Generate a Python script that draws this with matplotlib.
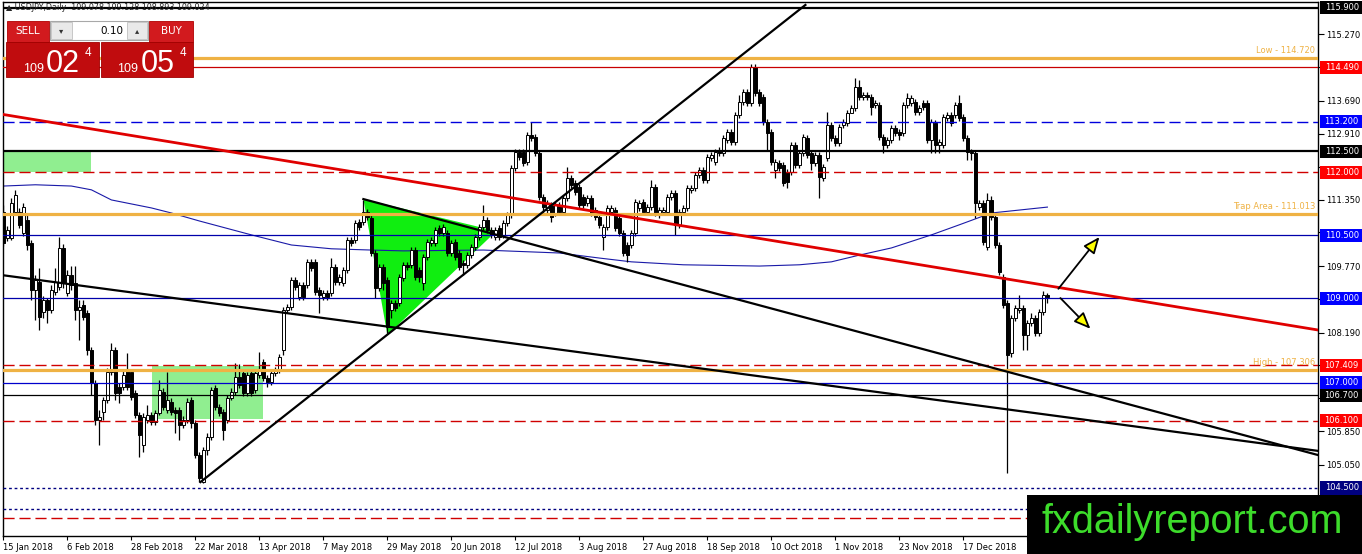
import numpy as np
import pandas as pd
import matplotlib
matplotlib.use("Agg")
import matplotlib.pyplot as plt
from matplotlib.patches import Rectangle, Polygon
from matplotlib.transforms import blended_transform_factory

# ---------------- data (USDJPY daily) ----------------
opens = [111.06,110.44,110.44,111.06,111.06,110.56,110.87,110.32,109.20,109.39,
 108.68,108.97,108.73,109.16,109.27,110.20,109.13,109.56,109.37,108.73,
 108.85,108.66,107.78,106.99,106.12,106.31,106.59,107.26,107.78,106.90,
 106.90,107.30,107.26,106.76,106.23,105.52,106.12,106.23,106.07,106.28,
 106.78,106.35,106.54,106.35,106.35,106.00,106.12,106.59,106.04,105.28,
 104.64,105.40,105.71,106.88,106.42,106.31,106.12,106.64,106.78,107.14,
 107.23,106.76,107.23,106.83,107.18,107.49,107.11,107.02,107.23,107.30,
 107.78,108.73,108.80,109.44,109.04,109.32,109.32,109.87,109.87,109.20,
 109.04,109.13,109.13,109.75,109.39,109.37,109.68,110.39,110.39,110.82,
 110.82,111.06,110.91,110.08,109.25,109.75,109.44,108.73,108.89,108.89,
 109.49,109.80,109.80,110.15,109.68,109.37,109.99,110.32,110.32,110.68,
 110.56,110.56,110.08,110.34,110.08,109.84,109.80,110.03,110.22,110.46,
 110.70,110.87,110.63,110.46,110.68,110.51,110.79,110.98,112.10,112.48,
 112.48,112.24,112.88,112.84,112.46,111.41,111.10,111.22,111.03,111.22,
 111.06,111.39,111.86,111.74,111.65,111.41,111.27,111.39,111.10,110.94,
 110.46,110.70,111.06,111.10,110.91,110.56,110.27,110.27,110.56,111.15,
 111.29,111.06,111.17,111.65,110.98,111.06,111.06,111.41,111.51,110.75,
 111.06,111.15,111.58,111.63,111.93,112.05,111.82,112.34,112.24,112.53,
 112.46,112.77,112.96,112.72,113.36,113.67,113.91,113.65,114.50,113.91,
 113.79,113.19,112.96,112.05,112.22,112.17,112.01,112.01,112.65,112.17,
 112.46,112.81,112.46,112.22,112.41,111.86,112.34,113.12,112.81,112.69,
 113.12,113.17,113.41,113.53,114.02,113.79,113.83,113.79,113.60,113.60,
 112.84,112.65,112.77,113.05,112.96,112.93,113.60,113.65,113.67,113.43,
 113.65,113.65,112.77,113.17,112.65,112.65,113.29,113.36,113.36,113.65,
 113.31,112.81,112.48,112.46,111.17,111.27,110.22,111.34,110.94,110.27,
 109.51,108.89,107.71,108.54,108.73,108.78,108.13,108.42,108.54,108.18,
 108.68,109.078]

highs = [111.22,110.72,111.39,111.58,111.15,111.27,110.98,110.39,109.56,109.73,
 109.06,109.01,109.32,109.73,110.46,110.30,109.68,109.77,109.77,108.97,
 108.97,108.73,107.85,107.07,106.35,106.66,107.35,107.94,107.85,106.99,
 107.30,107.71,107.33,106.83,106.31,106.28,106.47,106.31,106.35,107.07,
 106.88,107.26,106.64,106.42,106.42,106.21,106.64,106.66,106.12,105.36,
 105.47,105.81,106.90,106.95,106.50,106.38,106.71,106.88,107.47,107.45,
 107.30,107.26,107.30,107.30,107.73,107.56,107.18,107.30,107.37,107.68,
 108.80,108.87,109.51,109.51,109.39,109.39,109.94,109.94,109.94,109.27,
 109.20,109.20,109.96,109.82,109.58,109.75,110.46,110.46,110.87,110.89,
 111.34,111.13,110.98,110.15,109.82,109.82,109.51,108.97,108.97,109.58,
 109.87,109.87,110.22,110.22,109.75,110.06,110.41,110.46,110.70,110.75,
 110.77,110.63,110.39,110.41,110.15,109.92,110.11,110.30,110.53,110.77,
 111.22,110.94,110.70,110.70,110.75,110.87,111.06,112.17,112.55,112.55,
 112.55,112.96,113.19,112.91,112.53,111.48,111.34,111.29,111.29,111.29,
 111.46,112.12,111.93,111.82,111.72,111.48,111.46,111.46,111.17,111.01,
 110.77,111.22,111.22,111.17,110.98,110.63,110.34,110.63,111.36,111.34,
 111.36,111.25,111.82,111.72,111.17,111.17,111.48,111.58,111.58,111.13,
 111.22,111.70,111.70,112.01,112.12,112.12,112.43,112.48,112.55,112.60,
 112.88,113.03,113.03,113.43,113.83,113.98,113.98,114.57,114.57,113.98,
 113.86,113.26,113.03,112.31,112.29,112.24,112.08,112.72,112.72,112.53,
 112.91,112.88,112.53,112.48,112.48,112.20,113.43,113.19,112.88,113.15,
 113.26,113.48,113.60,114.24,114.19,113.91,113.91,113.86,113.72,113.67,
 112.91,112.84,113.12,113.12,113.03,113.67,113.88,113.83,113.74,113.60,
 113.72,113.72,113.26,113.24,112.79,113.38,113.43,113.43,113.67,113.83,
 113.38,112.88,112.55,112.53,111.34,111.34,111.51,111.44,111.01,110.34,
 109.58,108.97,108.61,108.85,109.08,108.85,108.49,108.66,108.61,108.75,
 109.18,109.128]

lows = [110.25,110.37,110.39,111.01,110.68,110.49,110.15,108.97,108.49,108.25,
 108.54,108.42,108.66,109.08,109.20,109.25,109.06,109.20,108.49,108.02,
 108.49,107.66,106.71,106.00,105.52,106.12,106.52,107.18,106.59,106.52,
 106.83,106.83,106.59,106.16,105.24,105.36,106.04,106.00,106.00,106.23,
 106.35,106.28,106.23,105.81,105.64,105.93,106.04,105.93,105.21,104.64,
 104.62,105.28,105.64,106.35,106.21,105.64,106.04,106.59,106.71,106.88,
 106.69,106.69,106.69,106.76,107.11,107.04,106.90,106.95,107.16,107.23,
 107.66,108.66,108.73,109.20,108.97,108.97,109.25,109.65,109.08,108.66,
 108.97,108.97,109.06,109.32,109.32,109.30,109.61,110.25,110.32,110.63,
 110.75,110.87,110.01,109.01,109.18,109.20,108.18,108.54,108.70,108.82,
 109.42,109.68,109.73,109.44,109.39,109.20,109.92,110.25,110.25,110.49,
 110.49,110.01,110.01,109.92,109.68,109.56,109.73,109.96,110.15,110.39,
 110.63,110.56,110.44,110.39,110.39,110.44,110.72,110.91,112.03,112.29,
 112.15,112.17,112.74,112.39,111.34,111.01,111.03,110.82,110.96,110.98,
 110.98,111.32,111.63,111.46,111.15,111.15,111.20,110.96,110.87,110.68,
 110.15,110.63,110.98,110.60,110.49,110.01,109.87,110.20,110.49,111.08,
 110.98,110.98,111.10,110.96,110.91,110.98,110.98,111.34,110.51,110.68,
 110.98,111.08,111.51,111.55,111.86,111.74,111.74,112.27,112.17,112.39,
 112.39,112.69,112.65,112.65,113.29,113.60,113.57,113.57,113.81,113.57,
 113.12,112.53,112.17,111.86,112.03,111.67,111.63,111.93,112.10,112.10,
 112.39,112.34,112.05,112.15,111.39,111.79,112.27,112.74,112.62,112.62,
 113.05,113.10,113.45,113.45,113.72,113.72,113.72,113.36,113.53,112.77,
 112.46,112.58,112.69,112.86,112.77,112.86,113.53,113.57,113.36,113.36,
 113.48,112.69,112.46,112.46,112.46,112.58,113.22,113.10,113.29,113.22,
 112.74,112.29,112.29,110.91,111.10,110.27,110.15,110.87,110.20,109.56,
 108.78,104.86,107.61,108.47,108.66,107.78,107.78,108.35,108.11,108.11,
 108.61,108.893]

closes = [110.32,110.63,111.27,111.46,110.75,111.17,110.27,109.20,109.44,108.56,
 108.97,108.73,109.20,109.39,110.20,109.37,109.56,109.32,108.73,108.80,
 108.56,107.78,106.99,106.12,106.19,106.59,107.26,107.78,106.76,106.76,
 107.18,106.90,106.66,106.23,105.76,106.19,106.23,106.07,106.28,106.83,
 106.42,106.59,106.31,106.28,106.00,106.12,106.54,106.04,105.28,104.74,
 105.40,105.71,106.83,106.42,106.28,105.88,106.64,106.78,107.14,106.95,
 106.76,107.18,106.76,107.23,107.30,107.11,107.02,107.23,107.30,107.61,
 108.73,108.80,109.44,109.27,109.32,109.04,109.87,109.73,109.16,109.08,
 109.13,109.04,109.75,109.39,109.51,109.68,110.39,110.32,110.79,110.70,
 111.06,110.94,110.08,109.25,109.75,109.37,108.32,108.89,108.78,109.51,
 109.80,109.75,110.15,109.51,109.51,109.99,110.34,110.39,110.63,110.56,
 110.70,110.08,110.32,109.99,109.75,109.80,110.03,110.22,110.46,110.70,
 110.87,110.63,110.51,110.63,110.46,110.79,110.98,112.10,112.48,112.36,
 112.22,112.88,112.81,112.46,111.41,111.17,111.27,110.94,111.22,111.06,
 111.39,111.86,111.70,111.53,111.22,111.22,111.39,111.03,110.94,110.75,
 110.70,111.15,111.15,110.68,110.56,110.08,110.03,110.56,111.29,111.27,
 111.06,111.17,111.65,111.03,111.10,111.10,111.41,111.51,110.75,111.06,
 111.15,111.63,111.63,111.93,112.05,111.82,112.36,112.41,112.48,112.46,
 112.81,112.96,112.72,113.36,113.67,113.91,113.65,114.50,113.88,113.65,
 113.19,112.93,112.24,112.24,112.10,111.74,111.77,112.65,112.17,112.46,
 112.84,112.41,112.22,112.41,111.89,112.12,113.12,112.81,112.69,113.07,
 113.19,113.41,113.53,114.02,113.79,113.83,113.79,113.55,113.65,112.84,
 112.65,112.77,113.05,112.93,112.88,113.60,113.76,113.76,113.43,113.53,
 113.55,112.77,113.19,112.65,112.72,113.31,113.36,113.17,113.60,113.29,
 112.81,112.48,112.46,111.27,111.27,110.34,111.34,110.94,110.27,109.63,
 108.85,107.66,108.54,108.78,108.78,108.13,108.42,108.54,108.18,108.68,
 109.08,109.024]

# moving average (sampled points: bar index, value)
ma_bars = [0, 8, 17, 22, 27, 37, 42, 49, 62, 72, 82, 92, 100, 120, 139, 149, 157,
           170, 189, 199, 207, 214, 222, 232, 239, 247, 254, 261]
ma_vals = [111.67, 111.70, 111.67, 111.58, 111.34, 111.15, 111.03, 110.84, 110.51,
           110.27, 110.18, 110.15, 110.13, 110.15, 110.08, 109.96, 109.87, 109.80,
           109.77, 109.80, 109.87, 110.03, 110.20, 110.51, 110.75, 111.03, 111.10, 111.17]

# horizontal levels
level_prices = [115.900, 114.720, 114.490, 113.200, 112.500, 112.000, 111.013, 110.500,
                109.000, 107.409, 107.306, 107.000, 106.700, 106.100, 104.500, 104.000, 103.780]
level_colors = ['black', '#EFB244', '#C80000', '#0000DD', 'black', '#D00000', '#EFB244',
                '#0000AA', '#0000AA', '#D00000', '#EFB244', '#0000CC', 'black', '#D00000',
                '#000080', '#000080', '#D00000']
level_styles = ['-', '-', '-', 'dash', '-', 'dash', '-', '-', '-', 'dash', '-', '-', '-',
                'dash', 'dot', 'dot', 'dash']
level_widths = [1.6, 2.3, 0.9, 1.0, 1.6, 1.0, 2.3, 0.9, 0.9, 1.0, 2.3, 0.9, 0.9, 1.0, 1.0, 1.0, 1.0]

# price labels on right axis (boxed)
box_prices = [115.900, 114.490, 113.200, 112.500, 112.000, 110.500, 109.000,
              107.409, 107.000, 106.700, 106.100, 104.500]
box_colors = ['black', '#FF0000', '#0000FF', 'black', '#FF0000', '#0000FF', '#0000FF',
              '#FF0000', '#0000FF', 'black', '#FF0000', '#000080']
axis_ticks = [115.270, 114.490, 113.690, 112.910, 112.130, 111.350, 110.570, 109.770,
              108.990, 108.190, 107.410, 106.630, 105.850, 105.050, 104.270]
hidden_tick_labels = [114.490, 112.130, 110.570, 108.990, 107.410, 106.630, 104.270]

# text labels on levels
level_texts = ['Low - 114.720', 'Trap Area - 111.013', 'High - 107.306']
level_text_prices = [114.720, 111.013, 107.306]

# trend lines (bar index, price anchors)
red_line = ([-0.75, 328.75], [113.38, 108.25])
black_line_1 = ([-0.75, 328.75], [109.56, 105.38])
black_line_2 = ([90, 328.75], [111.36, 105.28])
rising_line = ([49.25, 200.5], [104.64, 115.97])

triangle_bars = [90, 96, 123.25]
triangle_prices = [111.36, 108.13, 110.60]
zone_bars = [(-0.75, 22), (37.25, 65)]
zone_prices = [(112.005, 112.53), (106.14, 107.40)]

arrow_up = ((263.75, 109.23), (274, 110.46))
arrow_down = ((264.25, 109.01), (271.75, 108.28))

dates = pd.bdate_range('2018-01-15', periods=len(closes))
label_idx = list(range(0, len(closes), 16))
label_txt = [f"{dates[i].day} {dates[i].strftime('%b %Y')}" for i in label_idx]

# ---------------- figure ----------------
W, H = 1362, 554
fig = plt.figure(figsize=(W / 100, H / 100), dpi=100)
fig.patch.set_facecolor('white')


def fx(px):
    return px / W


def fy(py):
    return 1 - py / H


ax = fig.add_axes([fx(3), fy(536), fx(1318) - fx(3), fy(2) - fy(536)])
ax.set_xlim(-0.1, 328.65)
ax.set_ylim(103.36, 116.04)
for s in ax.spines.values():
    s.set_color('black')
    s.set_linewidth(1.0)

# zones and triangle (background)
for (b0, b1), (p0, p1) in zip(zone_bars, zone_prices):
    ax.add_patch(Rectangle((b0, p0), b1 - b0, p1 - p0, facecolor='#90EE90',
                           edgecolor='none', zorder=1))
ax.add_patch(Polygon(list(zip(triangle_bars, triangle_prices)), closed=True,
                     facecolor='#10EE10', edgecolor='none', zorder=1))

# moving average
ax.plot(ma_bars, ma_vals, color='#1a1aa8', lw=0.8, zorder=2)

# candles
n = min(len(opens), len(highs), len(lows), len(closes))
o = np.array(opens[:n]); h = np.array(highs[:n]); l = np.array(lows[:n]); c = np.array(closes[:n])
x = np.arange(n)
ax.vlines(x, l, h, color='black', lw=0.9, zorder=4)
up = c >= o
bottoms = np.minimum(o, c)
heights = np.maximum(np.abs(c - o), 0.012)
ax.bar(x[up], heights[up], bottom=bottoms[up], width=0.66, facecolor='white',
       edgecolor='black', linewidth=0.7, zorder=5)
ax.bar(x[~up], heights[~up], bottom=bottoms[~up], width=0.66, facecolor='black',
       edgecolor='black', linewidth=0.7, zorder=5)

# horizontal levels
for p, col, st, lw in zip(level_prices, level_colors, level_styles, level_widths):
    if st == 'dash':
        ax.axhline(p, color=col, lw=lw, dashes=(8, 3.5), zorder=6)
    elif st == 'dot':
        ax.axhline(p, color=col, lw=lw, dashes=(2, 2), zorder=6)
    else:
        ax.axhline(p, color=col, lw=lw, zorder=6)

bt = blended_transform_factory(ax.transAxes, ax.transData)
for t, p in zip(level_texts, level_text_prices):
    ax.text(0.9978, p + 0.07, t, transform=bt, ha='right', va='bottom',
            color='#EFB244', fontsize=6, zorder=7)

# trend lines
ax.plot(*red_line, color='#E00000', lw=2.0, zorder=7, solid_capstyle='butt')
ax.plot(*black_line_1, color='black', lw=1.6, zorder=7)
ax.plot(*black_line_2, color='black', lw=1.6, zorder=7)
ax.plot(*rising_line, color='black', lw=1.6, zorder=7)

# arrows
for start, end in (arrow_up, arrow_down):
    ax.annotate('', xy=end, xytext=start, zorder=8,
                arrowprops=dict(arrowstyle='-|>,head_length=1.0,head_width=0.42',
                                facecolor='#FFFF00', edgecolor='black', lw=1.3,
                                shrinkA=0, shrinkB=0))

# axes ticks
ax.set_xticks(label_idx)
ax.set_xticklabels(label_txt)
for lbl in ax.get_xticklabels():
    lbl.set_ha('left')
ax.tick_params(axis='x', length=3, pad=2, labelsize=6, colors='black')
ax.yaxis.tick_right()
ax.set_yticks(axis_ticks)
ax.set_yticklabels(['' if v in hidden_tick_labels else f"{v:.3f}" for v in axis_ticks])
ax.tick_params(axis='y', length=4, pad=2, labelsize=6, colors='black')

# boxed price labels on axis
for p, col in zip(box_prices, box_colors):
    ax.add_patch(Rectangle((1.0015, p - 0.155), 0.033, 0.31, transform=bt,
                           facecolor=col, edgecolor='none', clip_on=False, zorder=20))
    ax.text(1.0015 + 0.0165, p, f"{p:.3f}", transform=bt, ha='center', va='center',
            color='white', fontsize=6, zorder=21, clip_on=False)

# header text
fig.text(fx(6), fy(8), '\u25b2 USDJPY,Daily  109.078 109.128 108.893 109.024',
         fontsize=5.8, va='center', ha='left', color='#222222', zorder=30)


# one-click trading panel
def frect(x0, y0, x1, y1, **kw):
    r = Rectangle((fx(x0), fy(y1)), fx(x1) - fx(x0), fy(y0) - fy(y1),
                  transform=fig.transFigure, **kw)
    fig.add_artist(r)
    return r


frect(7, 21, 49, 42, facecolor='#D21A1E', edgecolor='#B00000', lw=0.6, zorder=40)
frect(149, 21, 193, 42, facecolor='#D21A1E', edgecolor='#B00000', lw=0.6, zorder=40)
frect(50, 21, 148, 40, facecolor='white', edgecolor='#A8A8A8', lw=0.8, zorder=40)
frect(51, 22, 72, 39, facecolor='#E9E9E9', edgecolor='#C0C0C0', lw=0.6, zorder=41)
frect(127, 22, 147, 39, facecolor='#E9E9E9', edgecolor='#C0C0C0', lw=0.6, zorder=41)
frect(6, 42, 99, 77, facecolor='#C00C0E', edgecolor='#A00000', lw=0.6, zorder=40)
frect(101, 42, 193, 77, facecolor='#C00C0E', edgecolor='#A00000', lw=0.6, zorder=40)
fig.text(fx(28), fy(31), 'SELL', color='white', fontsize=7.5, ha='center', va='center', zorder=45)
fig.text(fx(171), fy(31), 'BUY', color='white', fontsize=7.5, ha='center', va='center', zorder=45)
fig.text(fx(61.5), fy(30.5), '\u25be', color='#333333', fontsize=6, ha='center', va='center', zorder=45)
fig.text(fx(137), fy(30.5), '\u25b4', color='#333333', fontsize=6, ha='center', va='center', zorder=45)
fig.text(fx(123), fy(30.5), '0.10', color='black', fontsize=7.5, ha='right', va='center', zorder=45)
fig.text(fx(23), fy(72), '109', color='white', fontsize=9, family='Liberation Sans',
         ha='left', va='baseline', zorder=45)
fig.text(fx(46), fy(72), '02', color='white', fontsize=22, family='Liberation Sans',
         ha='left', va='baseline', zorder=45)
fig.text(fx(85), fy(56), '4', color='white', fontsize=8.5, family='Liberation Sans',
         ha='left', va='baseline', zorder=45)
fig.text(fx(117), fy(72), '109', color='white', fontsize=9, family='Liberation Sans',
         ha='left', va='baseline', zorder=45)
fig.text(fx(141), fy(72), '05', color='white', fontsize=22, family='Liberation Sans',
         ha='left', va='baseline', zorder=45)
fig.text(fx(180), fy(56), '4', color='white', fontsize=8.5, family='Liberation Sans',
         ha='left', va='baseline', zorder=45)

# watermark
frect(1027, 495, 1362, 554, facecolor='black', edgecolor='none', zorder=50)
fig.text(fx(1192), fy(533), 'fxdailyreport.com', color='#3DDC2B', fontsize=28.5,
         family='Liberation Sans', ha='center', va='baseline', zorder=51)

fig.savefig('out.png', dpi=100, facecolor='white')
